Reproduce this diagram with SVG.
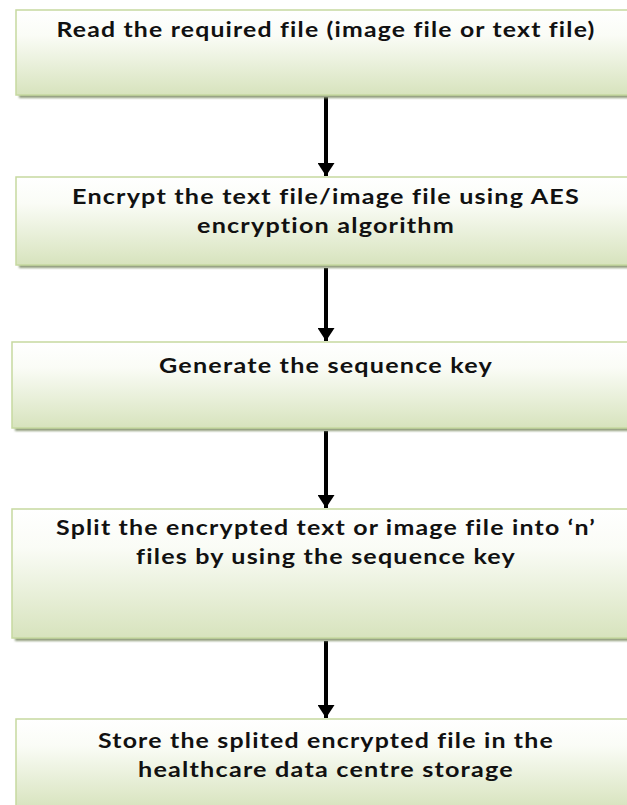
<svg xmlns="http://www.w3.org/2000/svg" width="627" height="805" viewBox="0 0 627 805">
  <defs>
    <linearGradient id="boxFill" x1="0" y1="0" x2="0" y2="1">
      <stop offset="0" stop-color="#ffffff"/>
      <stop offset="0.3" stop-color="#fafcf6"/>
      <stop offset="1" stop-color="#d7e3bd"/>
    </linearGradient>
    <filter id="shadow" x="-5%" y="-10%" width="115%" height="130%">
      <feGaussianBlur stdDeviation="1"/>
    </filter>
    <marker id="arrowHead" viewBox="0 0 13 17" refX="13" refY="8.5" markerWidth="13" markerHeight="17" orient="auto" markerUnits="userSpaceOnUse">
      <path d="M0,0 L13,8.5 L0,17 z" fill="#000"/>
    </marker>
  </defs>
  <style>
    .shadow { fill: #8f9c7a; filter: url(#shadow); }
    .box { fill: url(#boxFill); stroke: #c6d9a0; stroke-width: 1.5; }
    .label { font-family: Lato, "Liberation Sans", sans-serif; font-weight: bold; font-size: 21px; letter-spacing: 1px; fill: #111; text-anchor: middle; }
    .arrow { stroke: #000; stroke-width: 4; fill: none; marker-end: url(#arrowHead); }
  </style>

  <rect width="627" height="805" fill="#ffffff"/>

  <!-- connectors between the steps -->
  <g id="connectors">
    <line class="arrow" x1="326" y1="97" x2="326" y2="176"/>
    <line class="arrow" x1="326" y1="268" x2="326" y2="341"/>
    <line class="arrow" x1="326" y1="431" x2="326" y2="508"/>
    <line class="arrow" x1="326" y1="641" x2="326" y2="718"/>
  </g>

  <g id="step-read">
    <rect class="shadow" x="19" y="13" width="620" height="85"/>
    <rect class="box" x="16" y="10" width="620" height="85"/>
    <text class="label" x="326" y="37" textLength="539" lengthAdjust="spacingAndGlyphs">Read the required file (image file or text file)</text>
  </g>

  <g id="step-encrypt">
    <rect class="shadow" x="19" y="180" width="620" height="88"/>
    <rect class="box" x="16" y="177" width="620" height="88"/>
    <text class="label" x="326" y="204" textLength="508" lengthAdjust="spacingAndGlyphs">Encrypt the text file/image file using AES</text>
    <text class="label" x="326" y="233" textLength="258" lengthAdjust="spacingAndGlyphs">encryption algorithm</text>
  </g>

  <g id="step-key">
    <rect class="shadow" x="15" y="345" width="624" height="86"/>
    <rect class="box" x="12" y="342" width="624" height="86"/>
    <text class="label" x="326" y="373" textLength="334" lengthAdjust="spacingAndGlyphs">Generate the sequence key</text>
  </g>

  <g id="step-split">
    <rect class="shadow" x="15" y="512" width="624" height="129"/>
    <rect class="box" x="12" y="509" width="624" height="129"/>
    <text class="label" x="326" y="535" textLength="540" lengthAdjust="spacingAndGlyphs">Split the encrypted text or image file into ‘n’</text>
    <text class="label" x="326" y="564" textLength="380" lengthAdjust="spacingAndGlyphs">files by using the sequence key</text>
  </g>

  <g id="step-store">
    <rect class="shadow" x="19" y="722" width="620" height="90"/>
    <rect class="box" x="16" y="719" width="620" height="90"/>
    <text class="label" x="326" y="748" textLength="456" lengthAdjust="spacingAndGlyphs">Store the splited encrypted file in the</text>
    <text class="label" x="326" y="777" textLength="376" lengthAdjust="spacingAndGlyphs">healthcare data centre storage</text>
  </g>
</svg>
